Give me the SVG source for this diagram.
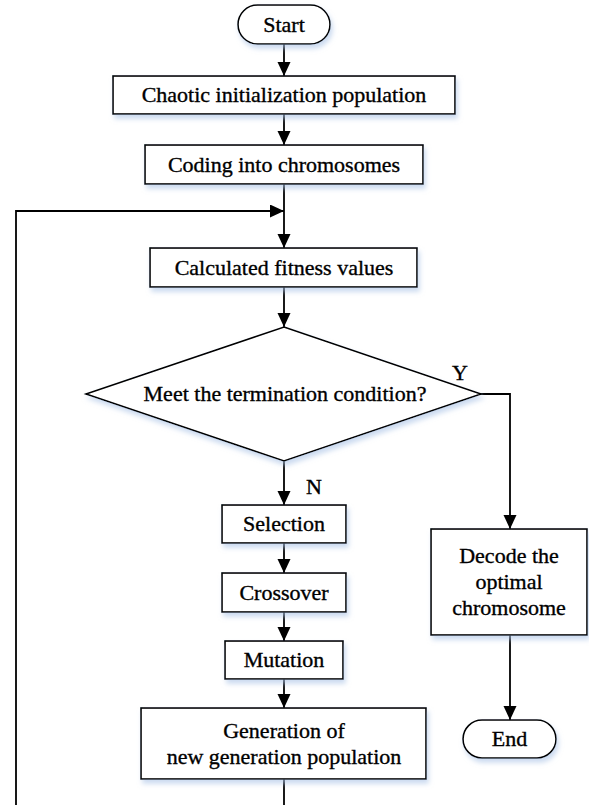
<svg xmlns="http://www.w3.org/2000/svg" width="589" height="805" viewBox="0 0 589 805">
<style>
.sh{fill:#fff;stroke:#000;stroke-width:1.6;filter:url(#shadow)}
.t{font-family:'Liberation Serif','DejaVu Serif',serif;font-size:22px;fill:#000;stroke:#000;stroke-width:0.35;text-anchor:middle}
.c{fill:none;stroke:#000;stroke-width:1.8}
</style>
<defs>
<filter id="shadow" x="-10%" y="-20%" width="130%" height="150%">
<feDropShadow dx="2" dy="4" stdDeviation="2.5" flood-color="#a9c3e6" flood-opacity="0.6"/>
</filter>
<marker id="ah" markerUnits="userSpaceOnUse" markerWidth="15" markerHeight="14" refX="14" refY="6.5" orient="auto">
<path d="M0,0 L14,6.5 L0,13 z" fill="#000"/>
</marker>
</defs>
<g id="connectors">
<line class="c" x1="284" y1="44" x2="284" y2="76" marker-end="url(#ah)"/>
<line class="c" x1="284" y1="114" x2="284" y2="145" marker-end="url(#ah)"/>
<line class="c" x1="284" y1="184" x2="284" y2="248" marker-end="url(#ah)"/>
<polyline class="c" points="16,805 16,211 284,211" marker-end="url(#ah)"/>
<line class="c" x1="284" y1="287" x2="284" y2="327" marker-end="url(#ah)"/>
<line class="c" x1="284" y1="461" x2="284" y2="505" marker-end="url(#ah)"/>
<polyline class="c" points="481,394 510,394 510,529" marker-end="url(#ah)"/>
<line class="c" x1="284" y1="543" x2="284" y2="573" marker-end="url(#ah)"/>
<line class="c" x1="284" y1="612" x2="284" y2="641" marker-end="url(#ah)"/>
<line class="c" x1="284" y1="679" x2="284" y2="708" marker-end="url(#ah)"/>
<line class="c" x1="284" y1="779" x2="284" y2="805"/>
<line class="c" x1="510" y1="635" x2="510" y2="720" marker-end="url(#ah)"/>
<text class="t" x="460" y="380">Y</text>
<text class="t" x="314" y="494">N</text>
</g>
<g id="start">
<rect class="sh" x="238" y="5" width="92" height="39" rx="19.5" ry="19.5"/>
<text class="t" x="284" y="32">Start</text>
</g>
<g id="chaotic-init">
<rect class="sh" x="113" y="76" width="342" height="38"/>
<text class="t" x="284" y="102">Chaotic initialization population</text>
</g>
<g id="coding">
<rect class="sh" x="145" y="145" width="278" height="39"/>
<text class="t" x="284" y="172">Coding into chromosomes</text>
</g>
<g id="fitness">
<rect class="sh" x="150" y="248" width="267" height="39"/>
<text class="t" x="284" y="275">Calculated fitness values</text>
</g>
<g id="termination">
<polygon class="sh" points="284,327 481,394 284,461 86,394"/>
<text class="t" x="285" y="401">Meet the termination condition?</text>
</g>
<g id="selection">
<rect class="sh" x="222" y="505" width="124" height="38"/>
<text class="t" x="284" y="531">Selection</text>
</g>
<g id="crossover">
<rect class="sh" x="222" y="573" width="124" height="39"/>
<text class="t" x="284" y="600">Crossover</text>
</g>
<g id="mutation">
<rect class="sh" x="225" y="641" width="118" height="38"/>
<text class="t" x="284" y="667">Mutation</text>
</g>
<g id="new-generation">
<rect class="sh" x="141" y="708" width="285" height="71"/>
<text class="t" x="284" y="738">Generation of</text>
<text class="t" x="284" y="764">new generation population</text>
</g>
<g id="decode">
<rect class="sh" x="431" y="529" width="156" height="106"/>
<text class="t" x="509" y="563">Decode the</text>
<text class="t" x="509" y="589">optimal</text>
<text class="t" x="509" y="615">chromosome</text>
</g>
<g id="end">
<rect class="sh" x="463" y="720" width="93" height="38" rx="19" ry="19"/>
<text class="t" x="509.5" y="746">End</text>
</g>
</svg>
